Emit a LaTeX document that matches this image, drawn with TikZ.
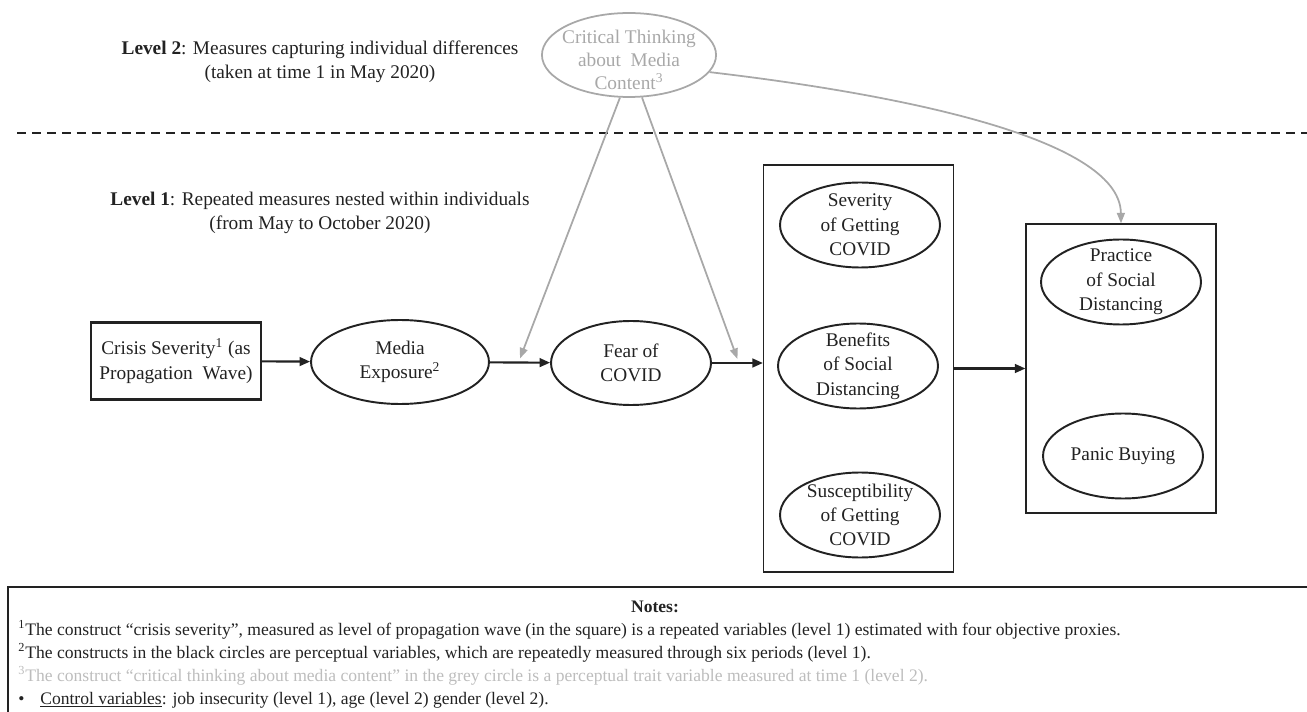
\documentclass[tikz,border=0pt]{standalone}
\usepackage{fontspec}
\setmainfont{Liberation Serif}
\usetikzlibrary{shapes.geometric,calc,arrows.meta}
\definecolor{ink}{HTML}{222222}
\definecolor{soft}{HTML}{A8A8A8}
\definecolor{faint}{HTML}{BDBDBD}

\begin{document}
\begin{tikzpicture}[x=0.02cm,y=-0.02cm,font=\fontsize{11}{13.9}\selectfont,
  oval/.style={ellipse,draw=ink,line width=1.1pt,text=ink,align=center,inner sep=-3pt,minimum width=3.2cm,minimum height=1.7cm},
  greyoval/.style={oval,draw=soft,text=soft,line width=1pt},
  group/.style={draw=ink,line width=0.7pt,inner sep=0pt,minimum width=3.8cm},
  arr/.style={ink,line width=1.2pt,-{Triangle[length=6pt,width=5pt]}},
  garr/.style={soft,line width=1pt,-{Triangle[length=6pt,width=4.5pt]}},
  note/.style={anchor=base west,text=ink,inner sep=0pt,font=\fontsize{10}{12}\selectfont}]
\clip (0,0) rectangle (1307,712);

\node[text=ink,align=center] (lvltwo) at (320,62) {\textbf{Level 2}: Measures capturing individual differences\\(taken at time 1 in May 2020)};
\node[text=ink,align=center] (lvlone) at (320,213) {\textbf{Level 1}: Repeated measures nested within individuals\\(from May to October 2020)};
\draw[ink,line width=1.3pt,dash pattern=on 5.1pt off 3.4pt] (17,133) -- (1307,133);

\node[greyoval,minimum width=3.44cm,minimum height=1.68cm] (ctm) at (629,55) {\smash{\raisebox{-6.6pt}{\renewcommand\arraystretch{0.93}\begin{tabular}{@{}c@{}}Critical Thinking\\about~ Media\\Content\textsuperscript{3}\end{tabular}}}};

\node[draw=ink,line width=1.2pt,text=ink,align=center,minimum width=3.4cm,minimum height=1.54cm,inner sep=0pt] (crisis) at (176,361) {Crisis Severity\textsuperscript{1} (as\\Propagation~ Wave)};
\node[oval,minimum width=3.56cm,minimum height=1.68cm] (media) at (400,362) {Media\\Exposure\textsuperscript{2}};
\node[oval,minimum height=1.68cm] (fear) at (631,363) {Fear of\\COVID};

\node[group,minimum height=8.14cm] (grpA) at (858.5,368.5) {};
\node[oval] (sev) at (860,225) {Severity\\of Getting\\COVID};
\node[oval] (ben) at (858,366) {Benefits\\of Social\\Distancing};
\node[oval] (sus) at (860,515) {Susceptibility\\of Getting\\COVID};

\node[group,minimum height=5.78cm] (grpB) at (1121,368.5) {};
\node[oval] (prac) at (1121,282) {Practice\\of Social\\Distancing};
\node[oval] (panic) at (1123,456) {Panic Buying};

\draw[arr] (crisis) -- (media);
\draw[arr] (media) -- (fear);
\draw[arr] (fear.east) -- (fear.east -| grpA.west);
\draw[arr] (grpA) -- (grpB);

\coordinate (modA) at ($(media.east)!0.5!(fear.west)+(0,-4)$);
\coordinate (modB) at ($(fear.east)!0.5!(fear.east -| grpA.west)+(0,-4)$);
\draw[garr] (ctm.258) -- (modA);
\draw[garr] (ctm.287) -- (modB);
\draw[garr] (ctm.348) .. controls (880,92) and (1120,135) .. (grpB.north);

\draw[ink,line width=0.8pt] (8,587) rectangle (1330,740);
\node[note,anchor=base,font=\fontsize{10}{12}\selectfont\bfseries] (notes) at (655,612) {Notes:};
\node[note] (noteA) at (18,635) {\textsuperscript{1}The construct “crisis severity”, measured as level of propagation wave (in the square) is a repeated variables (level 1) estimated with four objective proxies.};
\node[note] (noteB) at (18,658) {\textsuperscript{2}The constructs in the black circles are perceptual variables, which are repeatedly measured through six periods (level 1).};
\node[note,text=faint] (noteC) at (18,681) {\textsuperscript{3}The construct “critical thinking about media content” in the grey circle is a perceptual trait variable measured at time 1 (level 2).};
\node[note] (noteD) at (18,704) {•\hspace{0.9em}\underline{Control variables}: job insecurity (level 1), age (level 2) gender (level 2).};
\end{tikzpicture}
\end{document}
